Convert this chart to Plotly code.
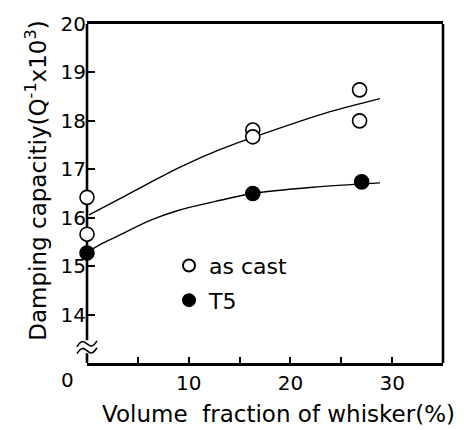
import plotly.graph_objects as go

# ---- data ----
ascast_x = [0, 0, 16.3, 16.3, 26.8, 26.8]
ascast_y = [16.42, 15.66, 17.81, 17.67, 18.64, 18.00]
t5_x = [0, 16.3, 27.0]
t5_y = [15.27, 16.50, 16.74]

fit_ascast_x = [0.2, 3.2, 6.15, 9.1, 13.1, 17.3, 23.9, 28.8]
fit_ascast_y = [16.06, 16.39, 16.72, 17.04, 17.41, 17.73, 18.19, 18.46]
fit_t5_x = [0.2, 1.5, 3.2, 6.15, 9.1, 13.1, 16.2, 22.2, 28.8]
fit_t5_y = [15.31, 15.47, 15.64, 15.94, 16.16, 16.36, 16.50, 16.63, 16.72]

x_ticks = [10, 20, 30]
x_minor_ticks = [5, 15, 25]
y_ticks = [14, 15, 16, 17, 18, 19, 20]

FONT = "DejaVu Sans"
W, H = 464, 430
L, T, R, B = 87, 19, 21, 67
PW, PH = W - L - R, H - T - B


def px_x(p):
    return (p - L) / PW


def px_y(p):
    return (H - B - p) / PH


fig = go.Figure()
fig.add_trace(go.Scatter(x=fit_ascast_x, y=fit_ascast_y, mode="lines",
                         line=dict(color="black", width=1.4, shape="spline", smoothing=0.8),
                         showlegend=False, hoverinfo="skip"))
fig.add_trace(go.Scatter(x=fit_t5_x, y=fit_t5_y, mode="lines",
                         line=dict(color="black", width=1.4, shape="spline", smoothing=0.8),
                         showlegend=False, hoverinfo="skip"))
fig.add_trace(go.Scatter(x=ascast_x, y=ascast_y, mode="markers", name="as cast", legendgroup="a",
                         marker=dict(symbol="circle", size=14, color="white", line=dict(color="black", width=1.6)),
                         cliponaxis=False))
fig.add_trace(go.Scatter(x=t5_x, y=t5_y, mode="markers", name="T5", legendgroup="b",
                         marker=dict(symbol="circle", size=14, color="black", line=dict(color="black", width=1.6)),
                         cliponaxis=False))

axis_lw = 2.6
# break marks geometry (paper coords)
bx0, bx1 = px_x(77), px_x(97)
bm = (bx0 + bx1) / 2
amp = 3 / PH


def wave(yc):
    return (f"M {bx0},{yc - amp} C {bx0 + (bm - bx0) * 0.5},{yc + amp * 1.6} {bm - (bm - bx0) * 0.3},{yc + amp * 0.8} {bm},{yc}"
            f" S {bx1 - (bx1 - bm) * 0.5},{yc - amp * 1.6} {bx1},{yc + amp}")


shapes = [
    dict(type="line", xref="paper", yref="paper", x0=1, x1=1, y0=0, y1=1, line=dict(color="black", width=axis_lw)),
    # left axis line, broken near the bottom (below the markers)
    dict(type="line", xref="paper", yref="paper", x0=0, x1=0, y0=px_y(340), y1=1,
         line=dict(color="black", width=axis_lw), layer="below"),
    dict(type="line", xref="paper", yref="paper", x0=0, x1=0, y0=0, y1=px_y(353),
         line=dict(color="black", width=axis_lw), layer="below"),
    dict(type="path", xref="paper", yref="paper", path=wave(px_y(343.5)), line=dict(color="black", width=1.6)),
    dict(type="path", xref="paper", yref="paper", path=wave(px_y(350.5)), line=dict(color="black", width=1.6)),
]

annotations = [
    dict(text="0", xref="paper", yref="paper", x=px_x(67), y=px_y(380),
         xanchor="center", yanchor="middle", showarrow=False, font=dict(family=FONT, size=20, color="black")),
    dict(text="Volume  fraction of whisker(%)", xref="paper", yref="paper",
         x=px_x(278), y=px_y(415),
         xanchor="center", yanchor="middle", showarrow=False, font=dict(family=FONT, size=23, color="black")),
    dict(text="Damping capacitiy(Q<sup>-1</sup>x10<sup>3</sup>)", xref="paper", yref="paper",
         x=px_x(36), y=px_y(178), textangle=-90,
         xanchor="center", yanchor="middle", showarrow=False, font=dict(family=FONT, size=23, color="black")),
]

fig.update_layout(
    width=W, height=H,
    margin=dict(l=L, r=R, t=T, b=B, pad=0),
    paper_bgcolor="white", plot_bgcolor="rgba(0,0,0,0)",
    font=dict(family=FONT, size=20, color="black"),
    shapes=shapes, annotations=annotations,
    showlegend=True,
    legend=dict(x=px_x(169), y=px_y(243), xanchor="left", yanchor="top",
                font=dict(family=FONT, size=22, color="black"), bgcolor="rgba(0,0,0,0)",
                tracegroupgap=3, itemsizing="constant"),
    xaxis=dict(range=[0, 35], tickvals=x_ticks, ticktext=[str(v) for v in x_ticks], ticks="inside", ticklen=6,
               tickwidth=1.6, tickcolor="black", showline=True, mirror=True, linecolor="black", linewidth=axis_lw,
               showgrid=False, zeroline=False, tickfont=dict(family=FONT, size=20),
               minor=dict(tickvals=x_minor_ticks, ticks="inside", ticklen=6, tickwidth=1.6, tickcolor="black",
                          showgrid=False)),
    yaxis=dict(range=[13, 20], tickvals=y_ticks, ticks="inside", ticklen=8, tickwidth=1.6, tickcolor="black",
               showline=False, showgrid=False, zeroline=False, tickfont=dict(family=FONT, size=20)),
)

fig.write_html("out.html")
